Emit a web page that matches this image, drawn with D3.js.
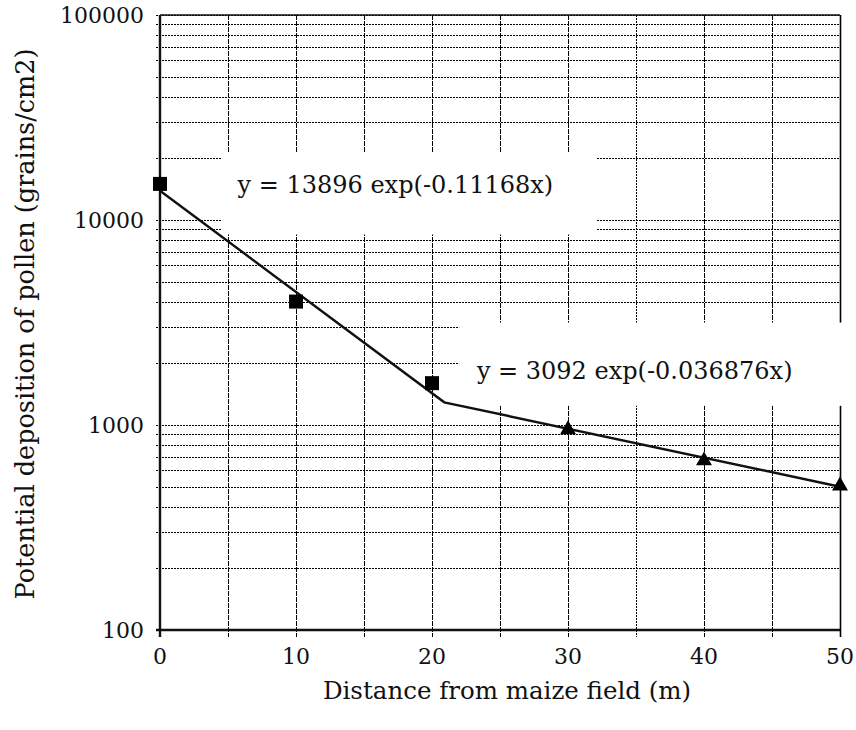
<!DOCTYPE html>
<html>
<head>
<meta charset="utf-8">
<script src="https://cdn.jsdelivr.net/npm/d3@7"></script>
<style>
  body { margin: 0; background: #fff; }
  text { font-family: "DejaVu Serif", serif; fill: #111; }
</style>
</head>
<body>
<div id="chart"></div>
<script>
// measured points (squares: near field, triangles: far field)
const nearX = [0, 10, 20];
const nearY = [15000, 4000, 1600];
const farX = [30, 40, 50];
const farY = [950, 670, 505];

// fitted line vertices
const fitX = [0, 20.9, 50];
const fitY = [13900, 1290, 500];

const xTicks = [0, 10, 20, 30, 40, 50];
const xGrid = [0, 5, 10, 15, 20, 25, 30, 35, 40, 45, 50];
const yLabels = [100, 1000, 10000, 100000];

const equations = [
  { text: 'y = 13896 exp(-0.11168x)', x: 5.7, y: 13550 },
  { text: 'y = 3092 exp(-0.036876x)', x: 23.3, y: 1680 }
];
// white label boxes that hide the grid behind the equations
const boxes = [
  { x0: 4.55, x1: 32.1, y0: 21300, y1: 8500 },
  { x0: 22.0, x1: 50.2, y0: 3160, y1: 1240 }
];

const W = 856, H = 730;

const svg = d3.select('#chart').append('svg')
  .attr('width', W)
  .attr('height', H);

const x = d3.scaleLinear().domain([0, 50]).range([160, 840]);
const y = d3.scaleLog().domain([100, 100000]).range([630, 15]);

// snap to pixel centres so 1px grid lines stay dark
const px = v => Math.round(v) + 0.5;

// horizontal grid (every 1..9 of each decade)
svg.append('g')
  .selectAll('line')
  .data(y.ticks())
  .enter().append('line')
  .attr('x1', x(0) - 4)
  .attr('x2', x(50))
  .attr('y1', d => px(y(d)))
  .attr('y2', d => px(y(d)))
  .attr('stroke', '#000')
  .attr('stroke-width', 1)
  .attr('stroke-dasharray', '2,1');

// vertical grid, running past the axis as ticks
svg.append('g')
  .selectAll('line')
  .data(xGrid)
  .enter().append('line')
  .attr('x1', d => px(x(d)))
  .attr('x2', d => px(x(d)))
  .attr('y1', y(100000))
  .attr('y2', y(100) + 7)
  .attr('stroke', '#000')
  .attr('stroke-width', d => d === 50 ? 1.6 : 1)
  .attr('stroke-dasharray', d => d === 35 ? '2,1' : d === 50 ? null : '5,1');

svg.append('g')
  .selectAll('rect')
  .data(boxes)
  .enter().append('rect')
  .attr('x', d => x(d.x0))
  .attr('y', d => y(d.y0))
  .attr('width', d => x(d.x1) - x(d.x0))
  .attr('height', d => y(d.y1) - y(d.y0))
  .attr('fill', '#fff');

// axes frame
svg.append('line')
  .attr('x1', x(0)).attr('x2', x(0))
  .attr('y1', y(100000)).attr('y2', y(100) + 7)
  .attr('stroke', '#111').attr('stroke-width', 2.4);
svg.append('line')
  .attr('x1', x(0) - 4).attr('x2', x(50))
  .attr('y1', y(100)).attr('y2', y(100))
  .attr('stroke', '#111').attr('stroke-width', 2.4);
svg.append('line')
  .attr('x1', x(0)).attr('x2', x(50))
  .attr('y1', y(100000)).attr('y2', y(100000))
  .attr('stroke', '#111').attr('stroke-width', 1.6);

// y tick labels
svg.append('g')
  .selectAll('text')
  .data(yLabels)
  .enter().append('text')
  .attr('x', x(0) - 16)
  .attr('y', d => y(d))
  .attr('dy', '0.36em')
  .attr('text-anchor', 'end')
  .style('font-size', '22px')
  .text(d => d);

// x tick labels
svg.append('g')
  .selectAll('text')
  .data(xTicks)
  .enter().append('text')
  .attr('x', d => x(d))
  .attr('y', 664)
  .attr('text-anchor', 'middle')
  .style('font-size', '22px')
  .text(d => d);

// fitted line
const line = d3.line()
  .x(d => x(d[0]))
  .y(d => y(d[1]));

svg.append('path')
  .datum(d3.zip(fitX, fitY))
  .attr('d', line)
  .attr('fill', 'none')
  .attr('stroke', '#111')
  .attr('stroke-width', 2.4);

// squares
svg.append('g')
  .selectAll('rect')
  .data(d3.zip(nearX, nearY))
  .enter().append('rect')
  .attr('x', d => x(d[0]) - 7)
  .attr('y', d => y(d[1]) - 7)
  .attr('width', 14)
  .attr('height', 14)
  .attr('fill', '#000');

// triangles
const tri = d3.symbol().type(d3.symbolTriangle).size(110);
svg.append('g')
  .selectAll('path')
  .data(d3.zip(farX, farY))
  .enter().append('path')
  .attr('d', tri)
  .attr('transform', d => `translate(${x(d[0])},${y(d[1])})`)
  .attr('fill', '#000');

// equations
svg.append('g')
  .selectAll('text')
  .data(equations)
  .enter().append('text')
  .attr('x', d => x(d.x))
  .attr('y', d => y(d.y))
  .style('font-size', '24px')
  .text(d => d.text);

// axis titles
svg.append('text')
  .attr('x', 507)
  .attr('y', 699)
  .attr('text-anchor', 'middle')
  .style('font-size', '24.5px')
  .text('Distance from maize field (m)');

svg.append('text')
  .attr('transform', 'translate(34,324) rotate(-90)')
  .attr('text-anchor', 'middle')
  .style('font-size', '25.5px')
  .text('Potential deposition of pollen (grains/cm2)');
</script>
</body>
</html>
